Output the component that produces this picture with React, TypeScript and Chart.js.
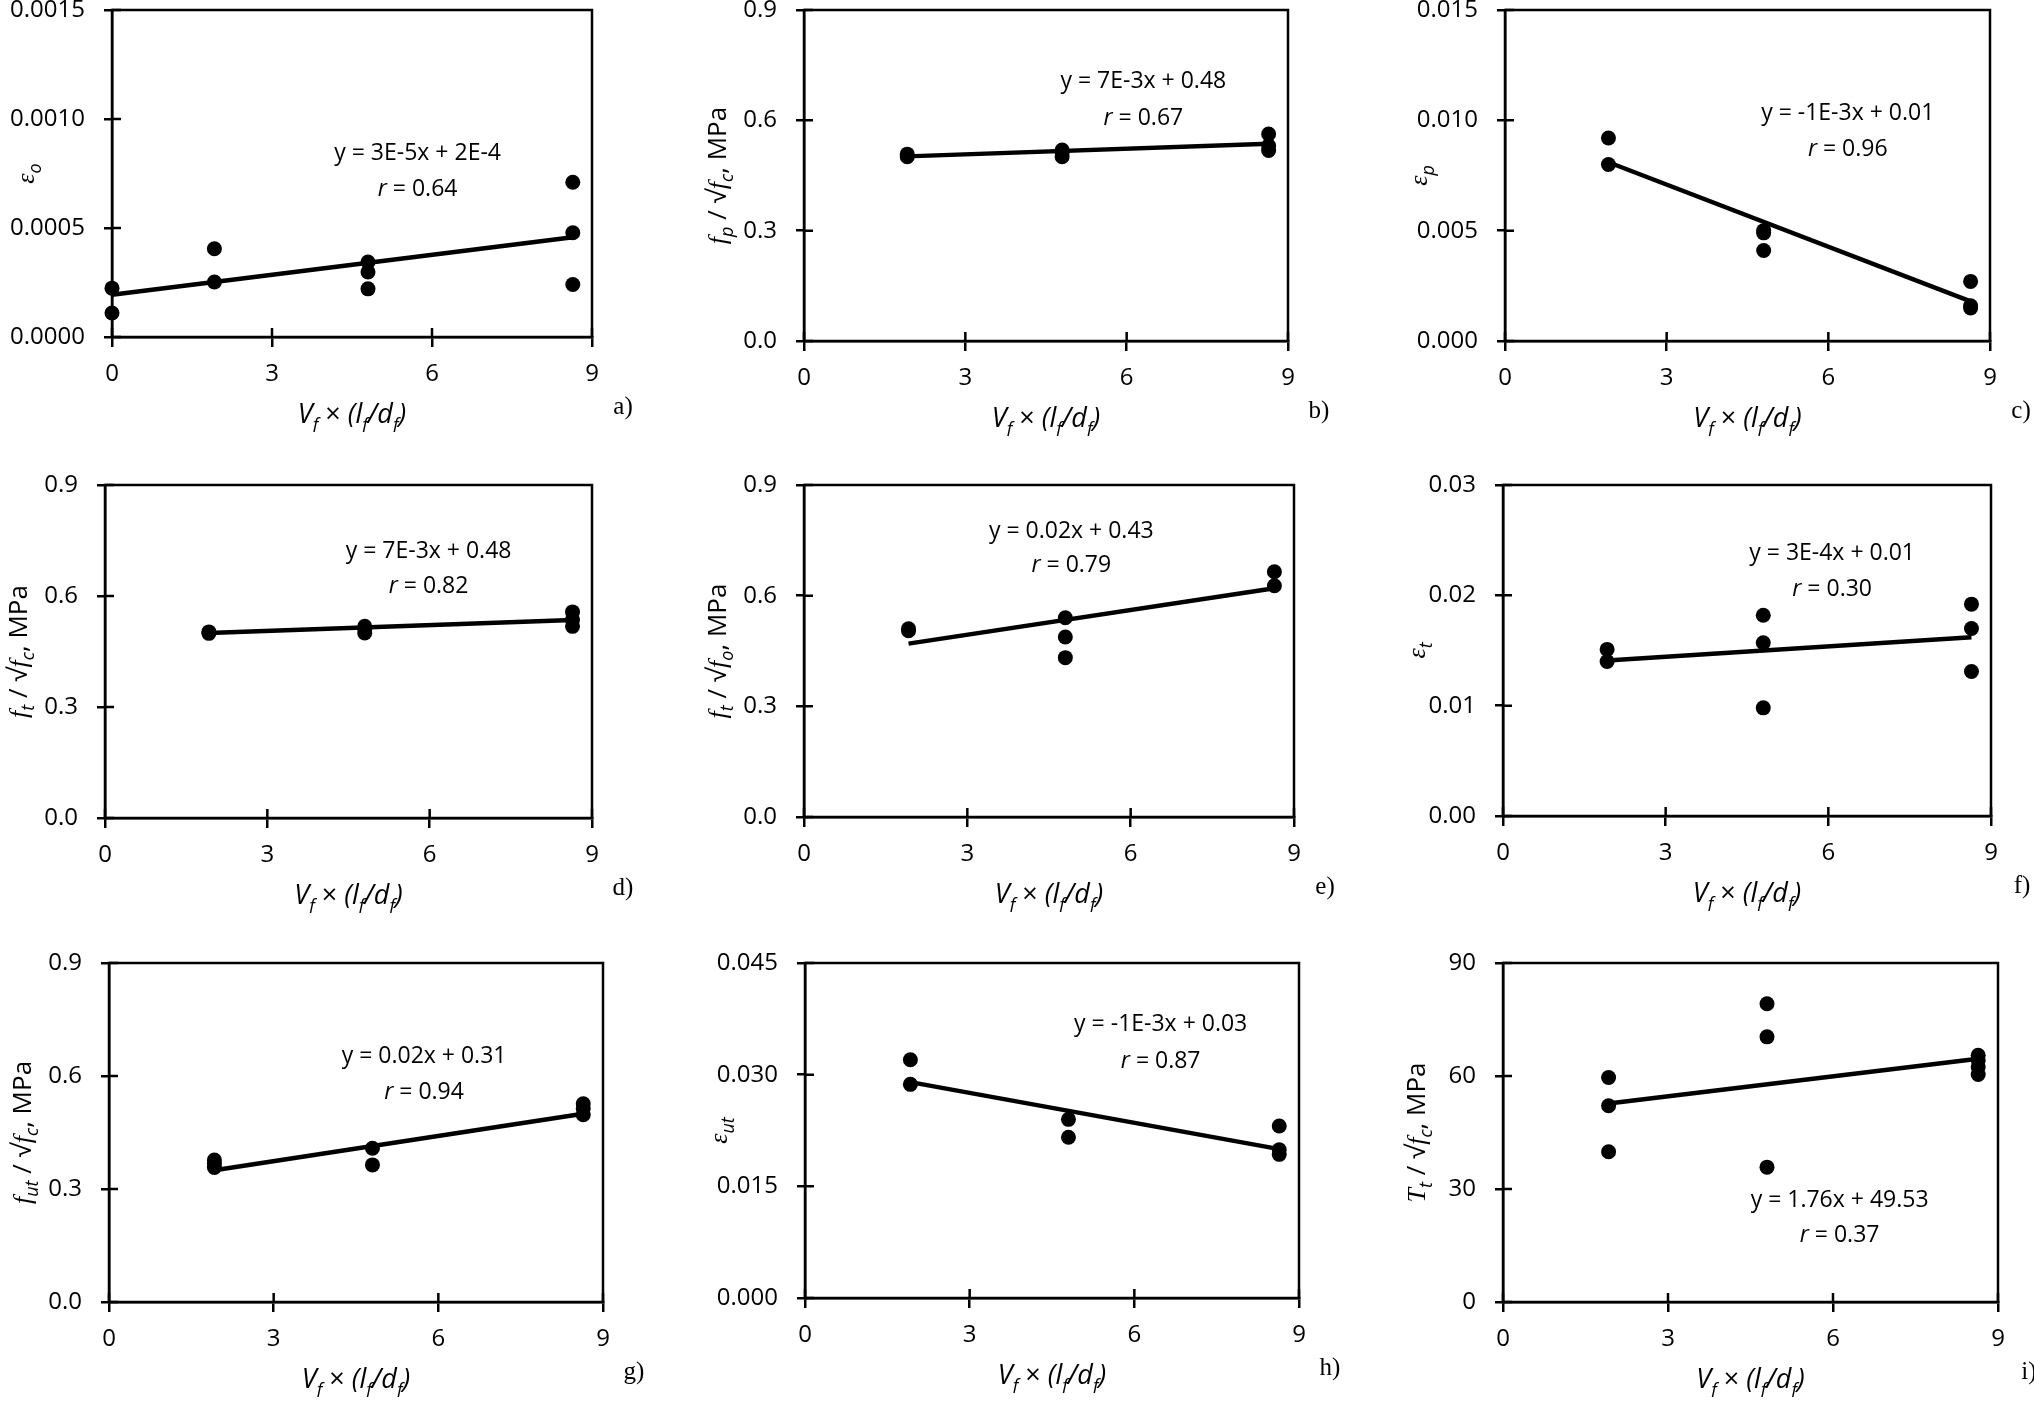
import React, { useEffect, useRef } from "react";
import { Chart, registerables } from "chart.js";

Chart.register(...registerables);

const SANS = '"Open Sans", "DejaVu Sans", sans-serif';
const SERIF = '"Liberation Serif", "DejaVu Serif", serif';

// x axis is the same for every panel
const xTicks = [0, 3, 6, 9];

// a) eps_o
const aX = [0, 0, 1.92, 1.92, 4.8, 4.8, 4.8, 8.64, 8.64, 8.64];
const aY = [0.000224, 0.00011, 0.000405, 0.000252, 0.000344, 0.000298, 0.000221, 0.00071, 0.000478, 0.000241];
const aFitX = [0, 8.64];
const aFitY = [0.000194, 0.000458];
const aTicks = [0, 0.0005, 0.001, 0.0015];

// b) fp / sqrt(fc)
const bX = [1.92, 1.92, 4.8, 4.8, 4.8, 8.64, 8.64, 8.64];
const bY = [0.508, 0.501, 0.519, 0.512, 0.501, 0.563, 0.531, 0.518];
const bFitX = [1.92, 8.64];
const bFitY = [0.502, 0.536];
const bTicks = [0, 0.3, 0.6, 0.9];

// c) eps_p
const cX = [1.92, 1.92, 4.8, 4.8, 4.8, 8.64, 8.64, 8.64];
const cY = [0.0092, 0.008, 0.005, 0.0049, 0.0041, 0.0027, 0.0016, 0.0015];
const cFitX = [1.92, 8.64];
const cFitY = [0.0081, 0.0018];
const cTicks = [0, 0.005, 0.01, 0.015];

// d) ft / sqrt(fc)
const dX = [1.92, 1.92, 4.8, 4.8, 4.8, 8.64, 8.64, 8.64];
const dY = [0.503, 0.499, 0.518, 0.51, 0.5, 0.557, 0.536, 0.518];
const dFitX = [1.92, 8.64];
const dFitY = [0.5, 0.535];
const dTicks = [0, 0.3, 0.6, 0.9];

// e) ft / sqrt(fo)
const eX = [1.92, 1.92, 4.8, 4.8, 4.8, 8.64, 8.64];
const eY = [0.51, 0.505, 0.54, 0.488, 0.432, 0.665, 0.627];
const eFitX = [1.92, 8.64];
const eFitY = [0.47, 0.62];
const eTicks = [0, 0.3, 0.6, 0.9];

// f) eps_t
const fX = [1.92, 1.92, 4.8, 4.8, 4.8, 8.64, 8.64, 8.64];
const fY = [0.0151, 0.014, 0.0182, 0.0157, 0.0098, 0.0192, 0.017, 0.0131];
const fFitX = [1.92, 8.64];
const fFitY = [0.0141, 0.0162];
const fTicks = [0, 0.01, 0.02, 0.03];

// g) fut / sqrt(fc)
const gX = [1.92, 1.92, 1.92, 4.8, 4.8, 8.64, 8.64, 8.64];
const gY = [0.377, 0.368, 0.357, 0.408, 0.364, 0.526, 0.514, 0.497];
const gFitX = [1.92, 8.64];
const gFitY = [0.35, 0.5];
const gTicks = [0, 0.3, 0.6, 0.9];

// h) eps_ut
const hX = [1.92, 1.92, 4.8, 4.8, 8.64, 8.64, 8.64];
const hY = [0.032, 0.0287, 0.024, 0.0216, 0.0231, 0.0199, 0.0193];
const hFitX = [1.92, 8.64];
const hFitY = [0.029, 0.02];
const hTicks = [0, 0.015, 0.03, 0.045];

// i) Tt / sqrt(fc)
const iX = [1.92, 1.92, 1.92, 4.8, 4.8, 4.8, 8.64, 8.64, 8.64, 8.64];
const iY = [59.6, 52.1, 39.9, 79.2, 70.4, 35.8, 65.5, 64.2, 62.4, 60.4];
const iFitX = [1.92, 8.64];
const iFitY = [52.7, 64.6];
const iTicks = [0, 30, 60, 90];

type Run = { t: string; it?: boolean; sub?: boolean; serif?: boolean };

const sqrtF = (s: string): Run[] => [
  { t: " / \u221A" },
  { t: "f", it: true, serif: true },
  { t: s, it: true, sub: true },
  { t: ", MPa" },
];
const eps = (s: string): Run[] => [
  { t: "\u03B5", it: true, serif: true },
  { t: s, it: true, sub: true },
];
const xTitle: Run[] = [
  { t: "V", it: true },
  { t: "f", it: true, sub: true },
  { t: " \u00D7 " },
  { t: "(l", it: true },
  { t: "f", it: true, sub: true },
  { t: "/d", it: true },
  { t: "f", it: true, sub: true },
  { t: ")", it: true },
];

const panels = [
  { key: "a", box: [112, 10, 592, 337], xs: aX, ys: aY, fx: aFitX, fy: aFitY, yt: aTicks, dec: 4,
    title: eps("o"), eq: "y = 3E-5x + 2E-4", r: "0.64", nx: 5.73, eqY: 0.000843, rY: 0.000684 },
  { key: "b", box: [804, 10, 1288, 341], xs: bX, ys: bY, fx: bFitX, fy: bFitY, yt: bTicks, dec: 1,
    title: [{ t: "f", it: true, serif: true }, { t: "p", it: true, sub: true }, ...sqrtF("c")],
    eq: "y = 7E-3x + 0.48", r: "0.67", nx: 6.31, eqY: 0.706, rY: 0.61 },
  { key: "c", box: [1505, 10, 1990, 341], xs: cX, ys: cY, fx: cFitX, fy: cFitY, yt: cTicks, dec: 3,
    title: eps("p"), eq: "y = -1E-3x + 0.01", r: "0.96", nx: 6.36, eqY: 0.0103, rY: 0.00875 },
  { key: "d", box: [105, 485, 592, 818], xs: dX, ys: dY, fx: dFitX, fy: dFitY, yt: dTicks, dec: 1,
    title: [{ t: "f", it: true, serif: true }, { t: "t", it: true, sub: true }, ...sqrtF("c")],
    eq: "y = 7E-3x + 0.48", r: "0.82", nx: 5.98, eqY: 0.72, rY: 0.63 },
  { key: "e", box: [804, 485, 1294, 817], xs: eX, ys: eY, fx: eFitX, fy: eFitY, yt: eTicks, dec: 1,
    title: [{ t: "f", it: true, serif: true }, { t: "t", it: true, sub: true }, ...sqrtF("o")],
    eq: "y = 0.02x + 0.43", r: "0.79", nx: 4.91, eqY: 0.773, rY: 0.687 },
  { key: "f", box: [1503, 485, 1991, 816], xs: fX, ys: fY, fx: fFitX, fy: fFitY, yt: fTicks, dec: 2,
    title: eps("t"), eq: "y = 3E-4x + 0.01", r: "0.30", nx: 6.07, eqY: 0.0238, rY: 0.0207 },
  { key: "g", box: [109, 963, 603, 1302], xs: gX, ys: gY, fx: gFitX, fy: gFitY, yt: gTicks, dec: 1,
    title: [{ t: "f", it: true, serif: true }, { t: "ut", it: true, sub: true }, ...sqrtF("c")],
    eq: "y = 0.02x + 0.31", r: "0.94", nx: 5.74, eqY: 0.652, rY: 0.559 },
  { key: "h", box: [805, 963, 1299, 1298], xs: hX, ys: hY, fx: hFitX, fy: hFitY, yt: hTicks, dec: 3,
    title: eps("ut"), eq: "y = -1E-3x + 0.03", r: "0.87", nx: 6.48, eqY: 0.0368, rY: 0.032 },
  { key: "i", box: [1503, 963, 1998, 1302], xs: iX, ys: iY, fx: iFitX, fy: iFitY, yt: iTicks, dec: 0,
    title: [{ t: "T", it: true, serif: true }, { t: "t", it: true, sub: true }, ...sqrtF("c")],
    eq: "y = 1.76x + 49.53", r: "0.37", nx: 6.12, eqY: 27.0, rY: 18.0 },
];

const PAD_L = 112;
const PAD_T = 20; // canvas space above the plot box
const PAD_R = 50;
const PAD_B = 95;

const runFont = (r: Run, size: number) => {
  const s = r.sub ? Math.round(size * 0.68) : size;
  return `${r.it ? "italic " : ""}${s}px ${r.serif ? SERIF : SANS}`;
};

// draws a line of text with subscripts, centred on cx
const drawRuns = (ctx: CanvasRenderingContext2D, runs: Run[], cx: number, base: number, size: number) => {
  let w = 0;
  runs.forEach((r) => {
    ctx.font = runFont(r, size);
    w += ctx.measureText(r.t).width;
  });
  let x = cx - w / 2;
  ctx.textAlign = "left";
  ctx.textBaseline = "alphabetic";
  runs.forEach((r) => {
    ctx.font = runFont(r, size);
    ctx.fillText(r.t, x, base + (r.sub ? size * 0.28 : 0));
    x += ctx.measureText(r.t).width;
  });
};

const decor = {
  id: "decor",
  beforeDatasetsDraw(chart: any) {
    const { ctx, chartArea: ca, scales } = chart;
    ctx.save();
    ctx.strokeStyle = "#000";
    ctx.lineWidth = 2.5;
    ctx.strokeRect(ca.left, ca.top, ca.right - ca.left, ca.bottom - ca.top);
    ctx.beginPath();
    scales.x.ticks.forEach((t: any) => {
      const px = scales.x.getPixelForValue(t.value);
      ctx.moveTo(px, ca.bottom);
      ctx.lineTo(px, ca.bottom - 9);
    });
    scales.y.ticks.forEach((t: any) => {
      const py = scales.y.getPixelForValue(t.value);
      ctx.moveTo(ca.left, py);
      ctx.lineTo(ca.left + 9, py);
    });
    ctx.stroke();
    ctx.restore();
  },
  afterDraw(chart: any, _args: any, o: any) {
    const { ctx, chartArea: ca, scales } = chart;
    ctx.save();
    ctx.fillStyle = "#000";

    // y title
    ctx.save();
    ctx.translate(ca.left - 87, (ca.top + ca.bottom) / 2);
    ctx.rotate(-Math.PI / 2);
    drawRuns(ctx, o.title, 0, 9, 26);
    ctx.restore();

    // x title
    drawRuns(ctx, xTitle, (ca.left + ca.right) / 2, ca.bottom + 86, 27);

    // panel letter
    ctx.font = `25px ${SERIF}`;
    ctx.textAlign = "center";
    ctx.textBaseline = "middle";
    ctx.fillText(o.key + ")", ca.right + 31, ca.bottom + 70);

    // regression note
    const nx = scales.x.getPixelForValue(o.nx);
    ctx.font = `23px ${SANS}`;
    ctx.textAlign = "center";
    ctx.textBaseline = "middle";
    ctx.fillText(o.eq, nx, scales.y.getPixelForValue(o.eqY));
    drawRuns(ctx, [{ t: "r", it: true }, { t: " = " + o.r }], nx, scales.y.getPixelForValue(o.rY) + 8, 23);
    ctx.restore();
  },
};

const Panel = ({ p }: { p: any }) => {
  const ref = useRef<HTMLCanvasElement>(null);
  const w = p.box[2] - p.box[0] + PAD_L + PAD_R;
  const h = p.box[3] - p.box[1] + PAD_T + PAD_B;

  useEffect(() => {
    if (!ref.current) return;
    const chart = new Chart(ref.current, {
      type: "scatter",
      data: {
        datasets: [
          {
            data: p.fx.map((x: number, i: number) => ({ x, y: p.fy[i] })),
            showLine: true,
            borderColor: "#000",
            borderWidth: 4.5,
            pointRadius: 0,
            clip: false,
          },
          {
            data: p.xs.map((x: number, i: number) => ({ x, y: p.ys[i] })),
            backgroundColor: "#000",
            borderColor: "#000",
            pointRadius: 7.5,
            borderWidth: 0,
            clip: false,
          },
        ],
      } as any,
      plugins: [decor],
      options: {
        animation: false,
        responsive: false,
        devicePixelRatio: 1,
        layout: { padding: { left: 0, top: PAD_T, right: PAD_R, bottom: 0 } },
        plugins: {
          legend: { display: false },
          tooltip: { enabled: false },
          decor: { key: p.key, title: p.title, eq: p.eq, r: p.r, nx: p.nx, eqY: p.eqY, rY: p.rY },
        } as any,
        scales: {
          x: {
            type: "linear",
            min: 0,
            max: 9,
            afterBuildTicks: (s: any) => {
              s.ticks = xTicks.map((v) => ({ value: v }));
            },
            afterFit: (s: any) => {
              s.height = PAD_B;
            },
            ticks: {
              color: "#000",
              font: { family: SANS, size: 24 },
              padding: 13,
              maxRotation: 0,
              autoSkip: false,
              callback: (v: any) => String(v),
            },
            grid: { drawOnChartArea: false, drawTicks: true, tickLength: 10, color: "#000", lineWidth: 2.5 },
            border: { color: "#000", width: 2.5 },
          },
          y: {
            type: "linear",
            min: p.yt[0],
            max: p.yt[p.yt.length - 1],
            afterBuildTicks: (s: any) => {
              s.ticks = p.yt.map((v: number) => ({ value: v }));
            },
            afterFit: (s: any) => {
              s.width = PAD_L;
              // keep the label overflow from pushing the plot box down
              s.paddingTop = 14;
              s.paddingBottom = 14;
            },
            ticks: {
              color: "#000",
              font: { family: SANS, size: 24 },
              padding: 19,
              autoSkip: false,
              callback: (v: any) => Number(v).toFixed(p.dec),
            },
            grid: { drawOnChartArea: false, drawTicks: true, tickLength: 8, color: "#000", lineWidth: 2.5 },
            border: { color: "#000", width: 2.5 },
          },
        },
      } as any,
    });
    return () => chart.destroy();
  }, []);

  return (
    <canvas
      ref={ref}
      width={w}
      height={h}
      style={{ position: "absolute", left: p.box[0] - PAD_L, top: p.box[1] - PAD_T, width: w, height: h }}
    />
  );
};

export default function App() {
  return (
    <div
      style={{
        position: "fixed",
        left: 0,
        top: 0,
        width: "100vw",
        height: "100vh",
        overflow: "hidden",
        background: "#fff",
      }}
    >
      {panels.map((p) => (
        <Panel key={p.key} p={p} />
      ))}
    </div>
  );
}
